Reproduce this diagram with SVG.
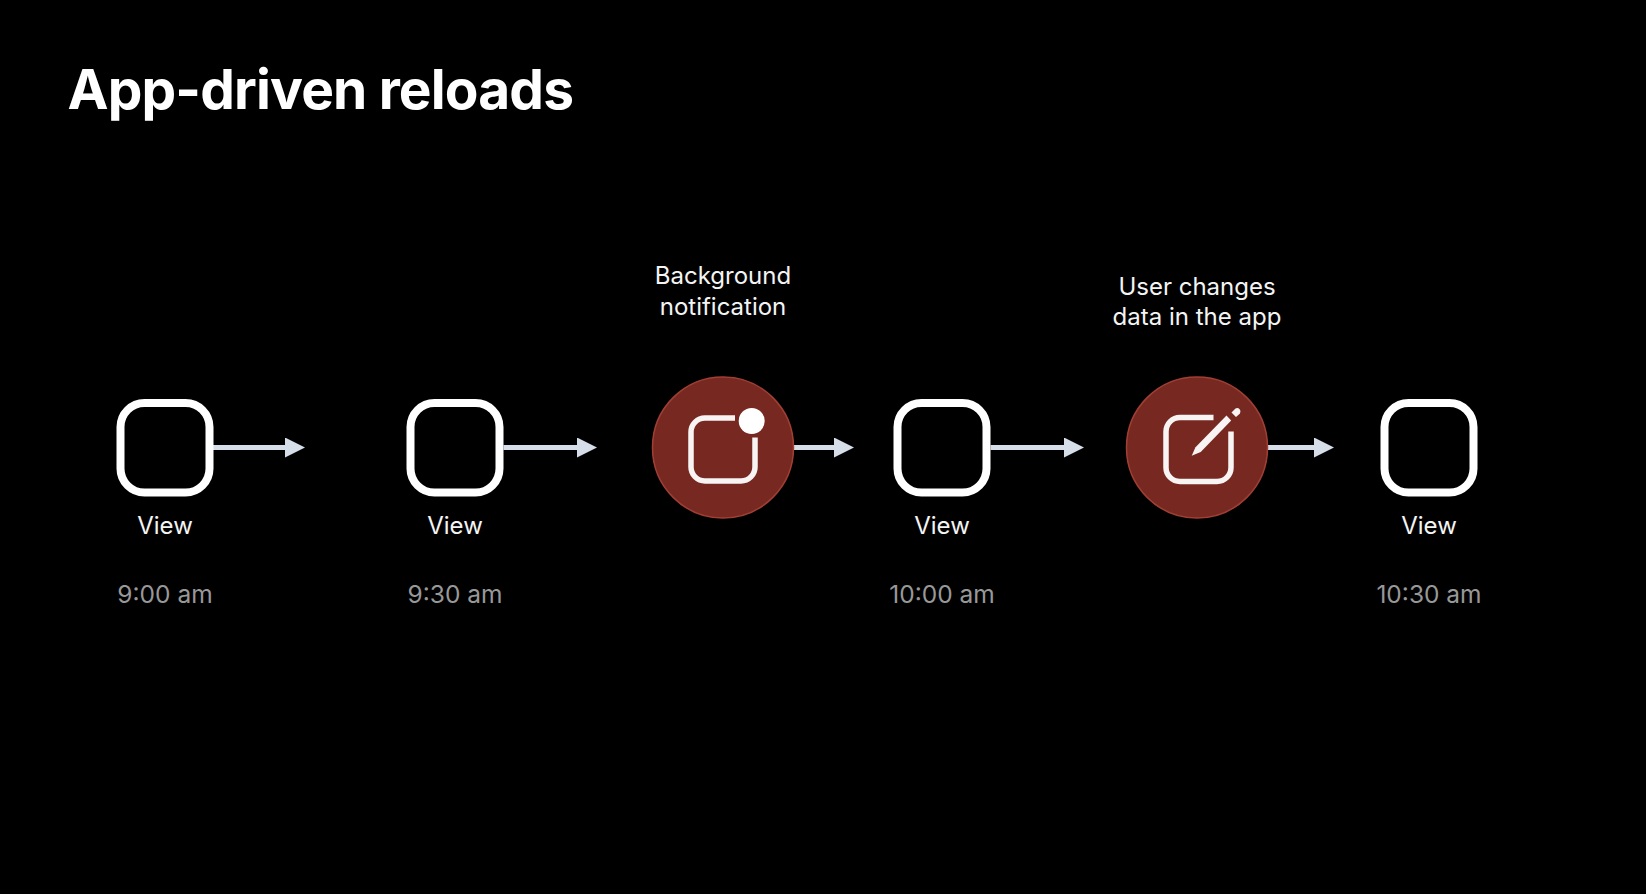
<svg xmlns="http://www.w3.org/2000/svg" width="1646" height="894" viewBox="0 0 1646 894">
<defs>
<marker id="head" markerUnits="userSpaceOnUse" markerWidth="20" markerHeight="20" refX="1" refY="10" orient="auto"><path d="M0 0L20 10L0 20Z" fill="#d6dee9"/></marker>
</defs>
<style>
text{font-family:"Inter","Liberation Sans",sans-serif;text-anchor:middle}
.title{font-size:55px;font-weight:650;fill:#fff;text-anchor:start;letter-spacing:-.85px}
.lab{font-size:24px;fill:#f4f4f4}
.time{font-size:24.500px;fill:#989898}
.box{fill:none;stroke:#fff;stroke-width:8}
.disc{fill:#772820;stroke:#a23f35;stroke-width:1.500}
.ico{fill:none;stroke:#f8f4f3;stroke-width:5.500}
.pen{fill:#f8f4f3}
.arrow{stroke:#d6dee9;stroke-width:5;fill:none;marker-end:url(#head)}
</style>
<rect width="1646" height="894" fill="#000"/>
<text class="title" x="67.500" y="109">App-driven reloads</text>
<g id="connectors">
<path class="arrow" d="M213 447.500H286"/>
<path class="arrow" d="M503.500 447.500H578"/>
<path class="arrow" d="M794 447.500H835"/>
<path class="arrow" d="M990.500 447.500H1065"/>
<path class="arrow" d="M1267 447.500H1315"/>
</g>
<g id="view1"><rect class="box" x="120.500" y="403" width="89" height="89.500" rx="24"/><text class="lab" x="165" y="534">View</text><text class="time" x="165" y="603">9:00 am</text></g>
<g id="view2"><rect class="box" x="410.500" y="403" width="89" height="89.500" rx="24"/><text class="lab" x="455" y="534">View</text><text class="time" x="455" y="603">9:30 am</text></g>
<g id="background-notification"><circle class="disc" cx="723" cy="447.500" r="70.500"/><path class="ico" d="M735 418H705A14 14 0 0 0 691 432V467A14 14 0 0 0 705 481H741A14 14 0 0 0 755 467V437.500"/><circle cx="751.700" cy="421" r="13" fill="#fff"/><text class="lab" x="723" y="284">Background</text><text class="lab" x="723" y="315">notification</text></g>
<g id="view3"><rect class="box" x="897.500" y="403" width="89" height="89.500" rx="24"/><text class="lab" x="942" y="534">View</text><text class="time" x="942" y="603">10:00 am</text></g>
<g id="user-changes"><circle class="disc" cx="1197" cy="447.500" r="70.500"/><path class="ico" d="M1213.500 417.500H1180A14 14 0 0 0 1166 431.500V467.500A14 14 0 0 0 1180 481.500H1217A14 14 0 0 0 1231 467.500V431.500"/><path class="pen" d="M1191.700 455.700L1195.500 447.200L1226.500 415.500L1231.200 420.500L1200.700 452Z"/><path class="pen" d="M1231.500 412.500L1235.500 408.500A3.500 3.500 0 0 1 1240 413.500L1236 417Z"/><text class="lab" x="1197" y="295">User changes</text><text class="lab" x="1197" y="325">data in the app</text></g>
<g id="view4"><rect class="box" x="1384.500" y="403" width="89" height="89.500" rx="24"/><text class="lab" x="1429" y="534">View</text><text class="time" x="1429" y="603">10:30 am</text></g>
</svg>
